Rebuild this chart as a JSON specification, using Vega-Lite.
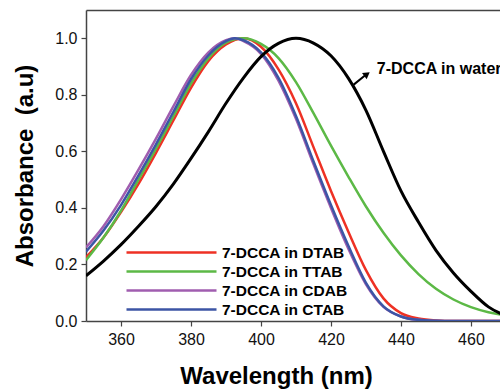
{
  "$schema": "https://vega.github.io/schema/vega-lite/v6.json",
  "width": 414,
  "height": 311,
  "autosize": {"type": "none"},
  "padding": {"left": 86, "top": 10, "right": 0, "bottom": 70},
  "background": "white",
  "config": {
    "view": {"stroke": null},
    "font": "Liberation Sans",
    "axis": {
      "domainColor": "#444",
      "domainWidth": 1.5,
      "tickColor": "#444",
      "tickWidth": 1.2,
      "tickSize": 5,
      "grid": false,
      "labelFont": "Liberation Sans",
      "labelFontSize": 16,
      "labelColor": "#111",
      "titleFont": "Liberation Sans",
      "titleFontSize": 24,
      "titleFontWeight": "bold",
      "titleColor": "#000"
    }
  },
  "datasets": {
    "curves": [
      {"sample": "7-DCCA in DTAB", "wl": 350, "a": 0.225}, {"sample": "7-DCCA in DTAB", "wl": 355, "a": 0.295}, {"sample": "7-DCCA in DTAB", "wl": 360, "a": 0.385}, {"sample": "7-DCCA in DTAB", "wl": 365, "a": 0.485}, {"sample": "7-DCCA in DTAB", "wl": 370, "a": 0.595}, {"sample": "7-DCCA in DTAB", "wl": 375, "a": 0.71}, {"sample": "7-DCCA in DTAB", "wl": 380, "a": 0.825}, {"sample": "7-DCCA in DTAB", "wl": 385, "a": 0.92}, {"sample": "7-DCCA in DTAB", "wl": 390, "a": 0.978}, {"sample": "7-DCCA in DTAB", "wl": 395, "a": 1.0}, {"sample": "7-DCCA in DTAB", "wl": 400, "a": 0.97}, {"sample": "7-DCCA in DTAB", "wl": 405, "a": 0.89}, {"sample": "7-DCCA in DTAB", "wl": 410, "a": 0.77}, {"sample": "7-DCCA in DTAB", "wl": 415, "a": 0.615}, {"sample": "7-DCCA in DTAB", "wl": 420, "a": 0.46}, {"sample": "7-DCCA in DTAB", "wl": 425, "a": 0.315}, {"sample": "7-DCCA in DTAB", "wl": 430, "a": 0.18}, {"sample": "7-DCCA in DTAB", "wl": 435, "a": 0.08}, {"sample": "7-DCCA in DTAB", "wl": 440, "a": 0.028}, {"sample": "7-DCCA in DTAB", "wl": 445, "a": 0.009}, {"sample": "7-DCCA in DTAB", "wl": 450, "a": 0.002}, {"sample": "7-DCCA in DTAB", "wl": 455, "a": 0}, {"sample": "7-DCCA in DTAB", "wl": 460, "a": 0}, {"sample": "7-DCCA in DTAB", "wl": 465, "a": 0}, {"sample": "7-DCCA in DTAB", "wl": 470, "a": 0},
      {"sample": "7-DCCA in TTAB", "wl": 350, "a": 0.215}, {"sample": "7-DCCA in TTAB", "wl": 355, "a": 0.295}, {"sample": "7-DCCA in TTAB", "wl": 360, "a": 0.39}, {"sample": "7-DCCA in TTAB", "wl": 365, "a": 0.5}, {"sample": "7-DCCA in TTAB", "wl": 370, "a": 0.61}, {"sample": "7-DCCA in TTAB", "wl": 375, "a": 0.725}, {"sample": "7-DCCA in TTAB", "wl": 380, "a": 0.84}, {"sample": "7-DCCA in TTAB", "wl": 385, "a": 0.93}, {"sample": "7-DCCA in TTAB", "wl": 390, "a": 0.985}, {"sample": "7-DCCA in TTAB", "wl": 395, "a": 1.0}, {"sample": "7-DCCA in TTAB", "wl": 400, "a": 0.98}, {"sample": "7-DCCA in TTAB", "wl": 405, "a": 0.93}, {"sample": "7-DCCA in TTAB", "wl": 410, "a": 0.845}, {"sample": "7-DCCA in TTAB", "wl": 415, "a": 0.735}, {"sample": "7-DCCA in TTAB", "wl": 420, "a": 0.62}, {"sample": "7-DCCA in TTAB", "wl": 425, "a": 0.51}, {"sample": "7-DCCA in TTAB", "wl": 430, "a": 0.405}, {"sample": "7-DCCA in TTAB", "wl": 435, "a": 0.312}, {"sample": "7-DCCA in TTAB", "wl": 440, "a": 0.232}, {"sample": "7-DCCA in TTAB", "wl": 445, "a": 0.166}, {"sample": "7-DCCA in TTAB", "wl": 450, "a": 0.114}, {"sample": "7-DCCA in TTAB", "wl": 455, "a": 0.076}, {"sample": "7-DCCA in TTAB", "wl": 460, "a": 0.049}, {"sample": "7-DCCA in TTAB", "wl": 465, "a": 0.031}, {"sample": "7-DCCA in TTAB", "wl": 470, "a": 0.02},
      {"sample": "7-DCCA in CDAB", "wl": 350, "a": 0.26}, {"sample": "7-DCCA in CDAB", "wl": 355, "a": 0.335}, {"sample": "7-DCCA in CDAB", "wl": 360, "a": 0.43}, {"sample": "7-DCCA in CDAB", "wl": 365, "a": 0.535}, {"sample": "7-DCCA in CDAB", "wl": 370, "a": 0.645}, {"sample": "7-DCCA in CDAB", "wl": 375, "a": 0.76}, {"sample": "7-DCCA in CDAB", "wl": 380, "a": 0.87}, {"sample": "7-DCCA in CDAB", "wl": 385, "a": 0.95}, {"sample": "7-DCCA in CDAB", "wl": 390, "a": 0.993}, {"sample": "7-DCCA in CDAB", "wl": 392.5, "a": 1.0}, {"sample": "7-DCCA in CDAB", "wl": 395, "a": 0.99}, {"sample": "7-DCCA in CDAB", "wl": 400, "a": 0.945}, {"sample": "7-DCCA in CDAB", "wl": 405, "a": 0.85}, {"sample": "7-DCCA in CDAB", "wl": 410, "a": 0.715}, {"sample": "7-DCCA in CDAB", "wl": 415, "a": 0.555}, {"sample": "7-DCCA in CDAB", "wl": 420, "a": 0.4}, {"sample": "7-DCCA in CDAB", "wl": 425, "a": 0.255}, {"sample": "7-DCCA in CDAB", "wl": 430, "a": 0.13}, {"sample": "7-DCCA in CDAB", "wl": 435, "a": 0.05}, {"sample": "7-DCCA in CDAB", "wl": 440, "a": 0.016}, {"sample": "7-DCCA in CDAB", "wl": 445, "a": 0.004}, {"sample": "7-DCCA in CDAB", "wl": 450, "a": 0.001}, {"sample": "7-DCCA in CDAB", "wl": 455, "a": 0}, {"sample": "7-DCCA in CDAB", "wl": 460, "a": 0}, {"sample": "7-DCCA in CDAB", "wl": 465, "a": 0}, {"sample": "7-DCCA in CDAB", "wl": 470, "a": 0},
      {"sample": "7-DCCA in CTAB", "wl": 350, "a": 0.245}, {"sample": "7-DCCA in CTAB", "wl": 355, "a": 0.32}, {"sample": "7-DCCA in CTAB", "wl": 360, "a": 0.41}, {"sample": "7-DCCA in CTAB", "wl": 365, "a": 0.515}, {"sample": "7-DCCA in CTAB", "wl": 370, "a": 0.625}, {"sample": "7-DCCA in CTAB", "wl": 375, "a": 0.74}, {"sample": "7-DCCA in CTAB", "wl": 380, "a": 0.855}, {"sample": "7-DCCA in CTAB", "wl": 385, "a": 0.94}, {"sample": "7-DCCA in CTAB", "wl": 390, "a": 0.99}, {"sample": "7-DCCA in CTAB", "wl": 392.5, "a": 1.0}, {"sample": "7-DCCA in CTAB", "wl": 395, "a": 0.993}, {"sample": "7-DCCA in CTAB", "wl": 400, "a": 0.95}, {"sample": "7-DCCA in CTAB", "wl": 405, "a": 0.86}, {"sample": "7-DCCA in CTAB", "wl": 410, "a": 0.725}, {"sample": "7-DCCA in CTAB", "wl": 415, "a": 0.565}, {"sample": "7-DCCA in CTAB", "wl": 420, "a": 0.41}, {"sample": "7-DCCA in CTAB", "wl": 425, "a": 0.265}, {"sample": "7-DCCA in CTAB", "wl": 430, "a": 0.135}, {"sample": "7-DCCA in CTAB", "wl": 435, "a": 0.052}, {"sample": "7-DCCA in CTAB", "wl": 440, "a": 0.016}, {"sample": "7-DCCA in CTAB", "wl": 445, "a": 0.004}, {"sample": "7-DCCA in CTAB", "wl": 450, "a": 0.001}, {"sample": "7-DCCA in CTAB", "wl": 455, "a": 0}, {"sample": "7-DCCA in CTAB", "wl": 460, "a": 0}, {"sample": "7-DCCA in CTAB", "wl": 465, "a": 0}, {"sample": "7-DCCA in CTAB", "wl": 470, "a": 0},
      {"sample": "7-DCCA in water", "wl": 350, "a": 0.16}, {"sample": "7-DCCA in water", "wl": 355, "a": 0.212}, {"sample": "7-DCCA in water", "wl": 360, "a": 0.27}, {"sample": "7-DCCA in water", "wl": 365, "a": 0.335}, {"sample": "7-DCCA in water", "wl": 370, "a": 0.405}, {"sample": "7-DCCA in water", "wl": 375, "a": 0.485}, {"sample": "7-DCCA in water", "wl": 380, "a": 0.575}, {"sample": "7-DCCA in water", "wl": 385, "a": 0.67}, {"sample": "7-DCCA in water", "wl": 390, "a": 0.77}, {"sample": "7-DCCA in water", "wl": 395, "a": 0.86}, {"sample": "7-DCCA in water", "wl": 400, "a": 0.935}, {"sample": "7-DCCA in water", "wl": 405, "a": 0.982}, {"sample": "7-DCCA in water", "wl": 410, "a": 1.0}, {"sample": "7-DCCA in water", "wl": 415, "a": 0.983}, {"sample": "7-DCCA in water", "wl": 420, "a": 0.938}, {"sample": "7-DCCA in water", "wl": 425, "a": 0.858}, {"sample": "7-DCCA in water", "wl": 430, "a": 0.745}, {"sample": "7-DCCA in water", "wl": 435, "a": 0.6}, {"sample": "7-DCCA in water", "wl": 440, "a": 0.46}, {"sample": "7-DCCA in water", "wl": 445, "a": 0.35}, {"sample": "7-DCCA in water", "wl": 450, "a": 0.25}, {"sample": "7-DCCA in water", "wl": 455, "a": 0.17}, {"sample": "7-DCCA in water", "wl": 460, "a": 0.105}, {"sample": "7-DCCA in water", "wl": 465, "a": 0.05}, {"sample": "7-DCCA in water", "wl": 470, "a": 0.018}
    ],
    "arrow": [{"x1": 426.5, "y1": 0.836, "x2": 429.8, "y2": 0.869}],
    "head": [{"x": 430.3, "y": 0.873}],
    "note": [{"x": 433.1, "y": 0.872, "label": "7-DCCA in water"}]
  },
  "layer": [
    {
      "data": {"name": "curves"},
      "transform": [{"filter": "datum.sample !== '7-DCCA in water'"}],
      "mark": {"type": "line", "strokeWidth": 2.5, "clip": true, "interpolate": "monotone"},
      "encoding": {
        "x": {
          "field": "wl", "type": "quantitative",
          "scale": {"domain": [350, 468.3], "nice": false, "zero": false},
          "axis": {"orient": "bottom", "values": [360, 380, 400, 420, 440, 460], "labelPadding": 5, "title": "Wavelength (nm)", "titleX": 190, "titleY": 62, "titleBaseline": "alphabetic"}
        },
        "y": {
          "field": "a", "type": "quantitative",
          "scale": {"domain": [0, 1.1], "nice": false, "zero": false},
          "axis": {"values": [0, 0.2, 0.4, 0.6, 0.8, 1.0], "format": ".1f", "labelPadding": 4, "title": "Absorbance \u00a0(a.u)", "titlePadding": 17}
        },
        "color": {
          "field": "sample", "type": "nominal",
          "scale": {"domain": ["7-DCCA in DTAB", "7-DCCA in TTAB", "7-DCCA in CDAB", "7-DCCA in CTAB"], "range": ["#ee3124", "#5cb946", "#a05daf", "#3c55a5"]},
          "legend": {"orient": "none", "legendX": 111, "legendY": 232, "title": null, "symbolType": "M-9,0H1", "symbolSize": 324, "symbolStrokeWidth": 2.5, "labelFont": "Liberation Sans", "labelFontWeight": "bold", "labelFontSize": 15.5, "labelColor": "#000", "labelOffset": 4, "rowPadding": -1.3}
        }
      }
    },
    {
      "data": {"name": "curves"},
      "transform": [{"filter": "datum.sample === '7-DCCA in water'"}],
      "mark": {"type": "line", "strokeWidth": 3, "color": "#000", "clip": true, "interpolate": "monotone"},
      "encoding": {
        "x": {"field": "wl", "type": "quantitative", "axis": {"orient": "top", "labels": false, "ticks": false, "title": null}},
        "y": {"field": "a", "type": "quantitative"}
      }
    },
    {
      "data": {"name": "arrow"},
      "mark": {"type": "rule", "strokeWidth": 2, "color": "#000"},
      "encoding": {
        "x": {"field": "x1", "type": "quantitative", "axis": null},
        "y": {"field": "y1", "type": "quantitative"},
        "x2": {"field": "x2"},
        "y2": {"field": "y2"}
      }
    },
    {
      "data": {"name": "head"},
      "mark": {"type": "point", "shape": "triangle-up", "filled": true, "color": "#000", "opacity": 1, "size": 60, "angle": 53},
      "encoding": {
        "x": {"field": "x", "type": "quantitative", "axis": null},
        "y": {"field": "y", "type": "quantitative"}
      }
    },
    {
      "data": {"name": "note"},
      "mark": {"type": "text", "align": "left", "baseline": "alphabetic", "font": "Liberation Sans", "fontSize": 16, "fontWeight": "bold", "color": "#000"},
      "encoding": {
        "x": {"field": "x", "type": "quantitative", "axis": null},
        "y": {"field": "y", "type": "quantitative"},
        "text": {"field": "label"}
      }
    }
  ],
  "resolve": {"axis": {"x": "independent"}}
}
